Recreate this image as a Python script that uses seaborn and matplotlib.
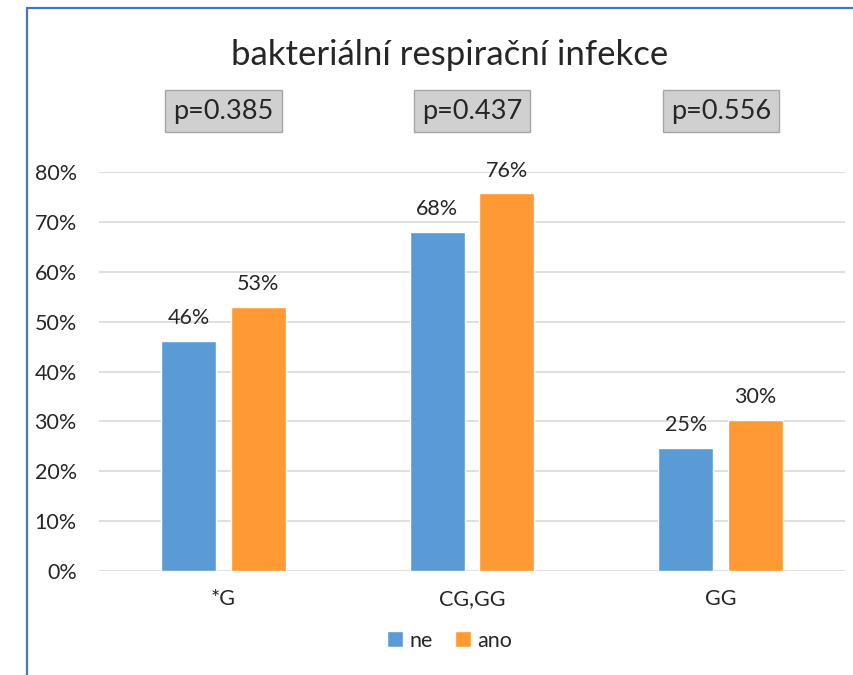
import matplotlib.pyplot as plt
import seaborn as sns
import pandas as pd
from matplotlib.lines import Line2D
from matplotlib.ticker import PercentFormatter

# data
categories = ["*G", "CG,GG", "GG"]
ne_values = [0.462, 0.68, 0.247]
ano_values = [0.53, 0.758, 0.303]
p_values = ["p=0.385", "p=0.437", "p=0.556"]
groups = ["ne", "ano"]

df = pd.DataFrame({
    "kategorie": categories * 2,
    "skupina": [groups[0]] * 3 + [groups[1]] * 3,
    "podil": ne_values + ano_values,
})

sns.set_style("white")
plt.rcParams["font.family"] = ["Lato", "DejaVu Sans"]

fig = plt.figure(figsize=(8.54, 6.75), dpi=100)
ax = fig.add_axes([0.116, 0.154, 0.8735, 0.591])

sns.barplot(data=df, x="kategorie", y="podil", hue="skupina", ax=ax,
            palette=["#5B9BD5", "#FF9933"], width=0.56, gap=0.21,
            saturation=1, errorbar=None)

for cont in ax.containers:
    ax.bar_label(cont, fmt=lambda v: f"{v * 100:.0f}%", padding=9, fontsize=15.5)

ax.set_ylim(0, 0.8)
ax.set_xlim(-0.5, 2.5)
ax.set_yticks([i / 10 for i in range(9)])
ax.yaxis.set_major_formatter(PercentFormatter(1.0, decimals=0))
ax.grid(axis="y", color="#d9d9d9", linewidth=1.2)
ax.set_axisbelow(True)
sns.despine(ax=ax, left=True, bottom=True)
ax.tick_params(axis="both", length=0, labelsize=15.5)
ax.tick_params(axis="y", pad=16)
ax.tick_params(axis="x", pad=13)
ax.set_xlabel("")
ax.set_ylabel("")

# p-value boxes above each group
for i, p in enumerate(p_values):
    ax.text(i, 1.153, p, transform=ax.get_xaxis_transform(), ha="center",
            va="center", fontsize=19.5, clip_on=False,
            bbox=dict(boxstyle="square,pad=0.3", facecolor="#d0d0d0",
                      edgecolor="#a6a6a6", linewidth=1))

fig.text(0.527, 0.918, "bakteriální respirační infekce", ha="center",
         va="center", fontsize=25)

sns.move_legend(ax, "center", bbox_to_anchor=(0.47, -0.175), ncol=2,
                frameon=False, title=None, fontsize=15.5, handlelength=0.75,
                handleheight=0.75, handletextpad=0.3, columnspacing=1.0)

# chart frame (cut off on the right and bottom)
fig.add_artist(Line2D([27 / 854, 1.0], [1 - 8 / 675, 1 - 8 / 675],
                      transform=fig.transFigure, color="#4472C4", linewidth=1.6))
fig.add_artist(Line2D([27 / 854, 27 / 854], [0.0, 1 - 8 / 675],
                      transform=fig.transFigure, color="#4472C4", linewidth=1.6))

fig.savefig("out.png", dpi=100)
